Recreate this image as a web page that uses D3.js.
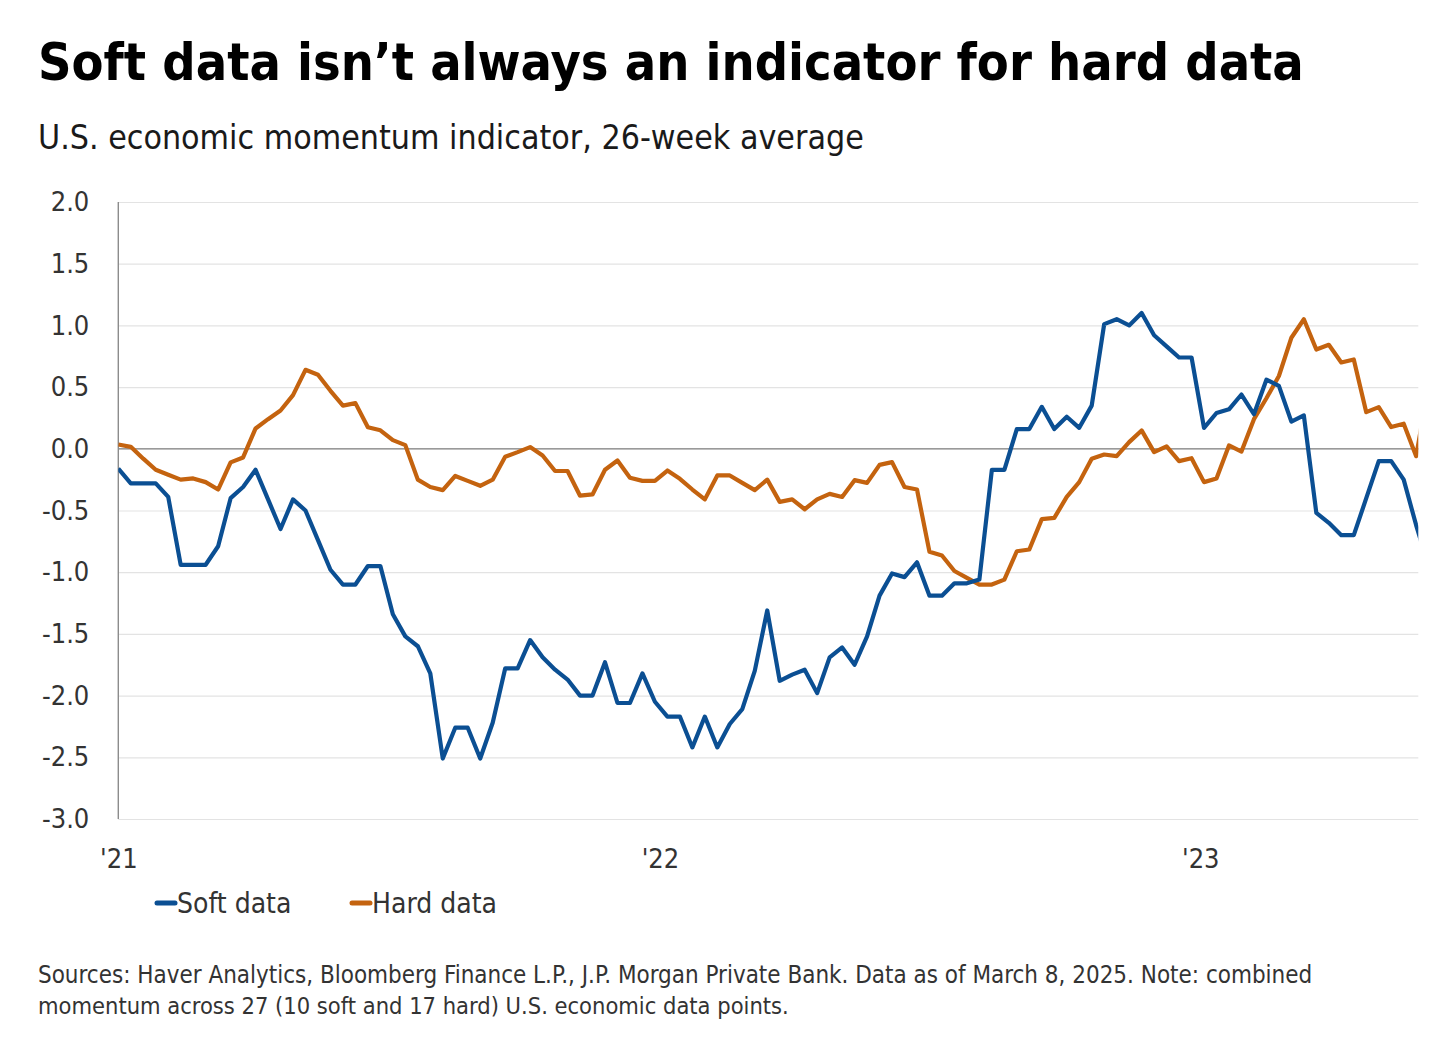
<!DOCTYPE html>
<html>
<head>
<meta charset="utf-8">
<script src="https://cdn.jsdelivr.net/npm/d3@7/dist/d3.min.js"></script>
<style>
  html, body { margin: 0; padding: 0; background: #fff; }
  svg { display: block; }
  text { font-family: "DejaVu Sans Condensed", "Liberation Sans Narrow", "Roboto", "DejaVu Sans", sans-serif; }
</style>
</head>
<body>
<script>
// ---- Data ----
const titleText = "Soft data isn\u2019t always an indicator for hard data";
const subtitleText = "U.S. economic momentum indicator, 26-week average";
const footerLines = [
  "Sources: Haver Analytics, Bloomberg Finance L.P., J.P. Morgan Private Bank. Data as of March 8, 2025. Note: combined",
  "momentum across 27 (10 soft and 17 hard) U.S. economic data points."
];
const seriesNames = ["Soft data", "Hard data"];
const yTicks = [2.0, 1.5, 1.0, 0.5, 0.0, -0.5, -1.0, -1.5, -2.0, -2.5, -3.0];
const xTickLabels = ["'21", "'22", "'23"];
const xTickIndex = [0, 43.4, 86.7];

const softData = [
  -0.16, -0.28, -0.28, -0.28, -0.39, -0.94, -0.94, -0.94, -0.79, -0.40,
  -0.31, -0.17, -0.41, -0.65, -0.41, -0.50, -0.74, -0.98, -1.10, -1.10,
  -0.95, -0.95, -1.34, -1.52, -1.60, -1.82, -2.51, -2.26, -2.26, -2.51,
  -2.22, -1.78, -1.78, -1.55, -1.69, -1.79, -1.87, -2.00, -2.00, -1.73,
  -2.06, -2.06, -1.82, -2.05, -2.17, -2.17, -2.42, -2.17, -2.42, -2.23,
  -2.11, -1.80, -1.31, -1.88, -1.83, -1.79, -1.98, -1.69, -1.61, -1.75,
  -1.52, -1.19, -1.01, -1.04, -0.92, -1.19, -1.19, -1.09, -1.09, -1.06,
  -0.17, -0.17, 0.16, 0.16, 0.34, 0.16, 0.26, 0.17, 0.35, 1.01,
  1.05, 1.00, 1.10, 0.92, 0.83, 0.74, 0.74, 0.17, 0.29, 0.32,
  0.44, 0.28, 0.56, 0.51, 0.22, 0.27, -0.52, -0.60, -0.70, -0.70,
  -0.40, -0.10, -0.10, -0.25, -0.62, -0.95
];
const hardData = [
  0.035, 0.016, -0.08, -0.17, -0.21, -0.25, -0.24, -0.27, -0.33, -0.11,
  -0.07, 0.165, 0.24, 0.31, 0.435, 0.64, 0.60, 0.47, 0.35, 0.37,
  0.175, 0.15, 0.07, 0.03, -0.25, -0.31, -0.335, -0.22, -0.26, -0.30,
  -0.25, -0.065, -0.027, 0.014, -0.054, -0.18, -0.18, -0.38, -0.37, -0.17,
  -0.095, -0.235, -0.26, -0.26, -0.176, -0.243, -0.33, -0.41, -0.216, -0.216,
  -0.276, -0.335, -0.25, -0.43, -0.41, -0.49, -0.41, -0.365, -0.39, -0.254,
  -0.276, -0.13, -0.108, -0.31, -0.33, -0.835, -0.865, -0.99, -1.046, -1.10,
  -1.10, -1.06, -0.83, -0.816, -0.57, -0.56, -0.39, -0.27, -0.08, -0.046,
  -0.06, 0.054, 0.149, -0.027, 0.019, -0.10, -0.076, -0.27, -0.24, 0.027,
  -0.022, 0.24, 0.41, 0.59, 0.90, 1.05, 0.805, 0.843, 0.70, 0.724,
  0.297, 0.338, 0.176, 0.203, -0.06, 0.52
];
const colors = ["#0b4f93", "#c4630f"];

// ---- Layout ----
const W = 1440, H = 1038;
const plot = { left: 118.3, right: 1418.3, top: 202, bottom: 819 };

const svg = d3.select("body").append("svg").attr("width", W).attr("height", H);

const x = d3.scaleLinear().domain([0, 104.17]).range([plot.left, plot.right]);
const y = d3.scaleLinear().domain([-3, 2]).range([plot.bottom, plot.top]);

// fit a text to a target width by adjusting font size
function fitText(sel, base, target) {
  sel.attr("font-size", base);
  const len = sel.node().getComputedTextLength();
  if (len > 0) sel.attr("font-size", base * target / len);
}

// Title & subtitle
const title = svg.append("text").attr("x", 38).attr("y", 80)
  .attr("font-weight", 700).attr("fill", "#000")
  .text(titleText);
fitText(title, 58, 1266);
const sub = svg.append("text").attr("x", 38).attr("y", 149)
  .attr("fill", "#1a1a1a")
  .text(subtitleText);
fitText(sub, 36, 826);

// Gridlines
const fmt = d3.format(".1f");
const yAxis = d3.axisLeft(y).tickValues(yTicks)
  .tickSize(-(plot.right - plot.left)).tickPadding(29)
  .tickFormat(d => fmt(d).replace("\u2212", "-"));
const gy = svg.append("g").attr("transform", `translate(${plot.left},0)`).call(yAxis);
gy.select(".domain").remove();
gy.selectAll(".tick line").attr("stroke", "#e3e3e3").attr("stroke-width", 1.2);
gy.selectAll(".tick text").attr("font-size", 27).attr("fill", "#333")
  .attr("font-family", "\"DejaVu Sans Condensed\", \"Liberation Sans Narrow\", Roboto, sans-serif");

// zero line
svg.append("line").attr("x1", plot.left).attr("x2", plot.right)
  .attr("y1", y(0)).attr("y2", y(0)).attr("stroke", "#9a9a9a").attr("stroke-width", 1.6);
// y axis line
svg.append("line").attr("x1", plot.left).attr("x2", plot.left)
  .attr("y1", plot.top).attr("y2", plot.bottom).attr("stroke", "#8c8c8c").attr("stroke-width", 1.4);

// X axis labels
const xAxis = d3.axisBottom(x).tickValues(xTickIndex)
  .tickFormat((d, i) => xTickLabels[i]).tickSize(0).tickPadding(30);
const gx = svg.append("g").attr("transform", `translate(0,${plot.bottom})`).call(xAxis);
gx.select(".domain").remove();
gx.selectAll(".tick text").attr("font-size", 27).attr("fill", "#333")
  .attr("font-family", "\"DejaVu Sans Condensed\", \"Liberation Sans Narrow\", Roboto, sans-serif");

// Clip
svg.append("defs").append("clipPath").attr("id", "plotclip")
  .append("rect").attr("x", plot.left).attr("y", plot.top - 20)
  .attr("width", plot.right - plot.left).attr("height", plot.bottom - plot.top + 40);

const line = d3.line().x((d, i) => x(i)).y(d => y(d));
const gl = svg.append("g").attr("clip-path", "url(#plotclip)");
gl.append("path").datum(hardData).attr("d", line).attr("fill", "none")
  .attr("stroke", colors[1]).attr("stroke-width", 4.2).attr("stroke-linejoin", "round");
gl.append("path").datum(softData).attr("d", line).attr("fill", "none")
  .attr("stroke", colors[0]).attr("stroke-width", 4.2).attr("stroke-linejoin", "round");

// Legend
const legendX = [155, 350];
seriesNames.forEach((name, i) => {
  const g = svg.append("g").attr("transform", `translate(${legendX[i]},903)`);
  g.append("line").attr("x1", 2).attr("x2", 20).attr("y1", 0).attr("y2", 0)
    .attr("stroke", colors[i]).attr("stroke-width", 5).attr("stroke-linecap", "round");
  g.append("text").attr("x", 22).attr("y", 10).attr("font-size", 28).attr("fill", "#333")
    .text(name);
});

// Footer
footerLines.forEach((t, i) => {
  const ft = svg.append("text").attr("x", 38).attr("y", 983 + i * 31)
    .attr("fill", "#333")
    .text(t);
  fitText(ft, 24, i === 0 ? 1275 : 751);
});
</script>
</body>
</html>
